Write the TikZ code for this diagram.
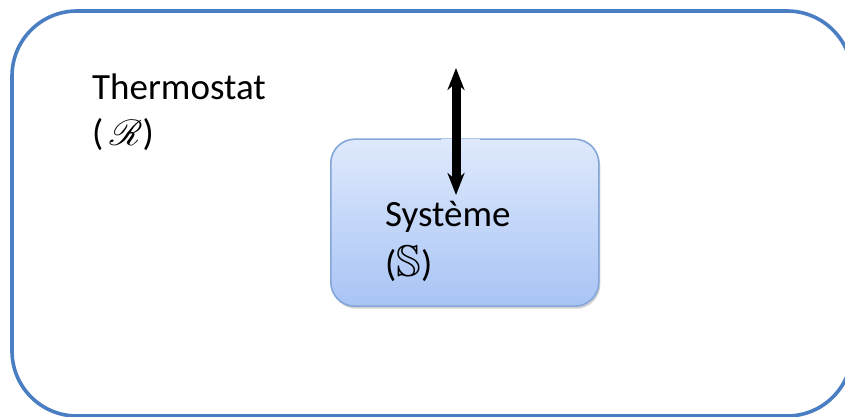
\documentclass[tikz,border=0pt]{standalone}
\usepackage{amssymb}
\usepackage{mathrsfs}
\usepackage{graphicx}
\usepackage{fontspec}
\setmainfont{Carlito}
\usetikzlibrary{arrows.meta,shadows}
\definecolor{outerblue}{HTML}{4A7EC2}
\definecolor{innerborder}{HTML}{84A6DA}
\definecolor{topfill}{HTML}{DFE9FC}
\definecolor{botfill}{HTML}{A8C4F5}
\tikzset{
  lbl/.style={anchor=base west, inner sep=0pt, font=\fontsize{37}{45}\selectfont},
  outerbox/.style={draw=outerblue, line width=3.6pt, rounded corners=65pt},
  innerbox/.style={draw=innerborder, line width=1.6pt, rounded corners=24pt,
    top color=topfill, bottom color=botfill,
    drop shadow={shadow xshift=1.5pt, shadow yshift=-2.5pt, opacity=0.35, fill=black!50}},
  heatarrow/.style={line width=9pt, {Stealth[length=22pt,width=17pt]}-{Stealth[length=22pt,width=17pt]}}
}
\begin{document}
\begin{tikzpicture}[x=1pt,y=1pt]
\useasboundingbox (0,0) rectangle (845,417);
\fill[white] (0,0) rectangle (845,417);
\draw[outerbox] (12,1) rectangle (852,406);
\node[innerbox, minimum width=268pt, minimum height=167pt, anchor=south west, inner sep=0pt] (sys) at (330,110) {};
\draw[topfill, line width=2.4pt] (441,277) -- (480,277);
\coordinate (atop) at (456,349);
\coordinate (abot) at (456,222);
\draw[heatarrow] (atop) -- (abot);
\node[lbl] (thermo) at (92,317) {Thermostat};
\node[lbl] (thermoR) at (92,271) {(\,\scalebox{1.45}{$\mathscr{R}$})};
\node[lbl] (syst) at (385,190) {Système};
\node[lbl] (systS) at (385,140) {(\scalebox{1.2}{$\mathbb{S}$})};
\end{tikzpicture}
\end{document}
